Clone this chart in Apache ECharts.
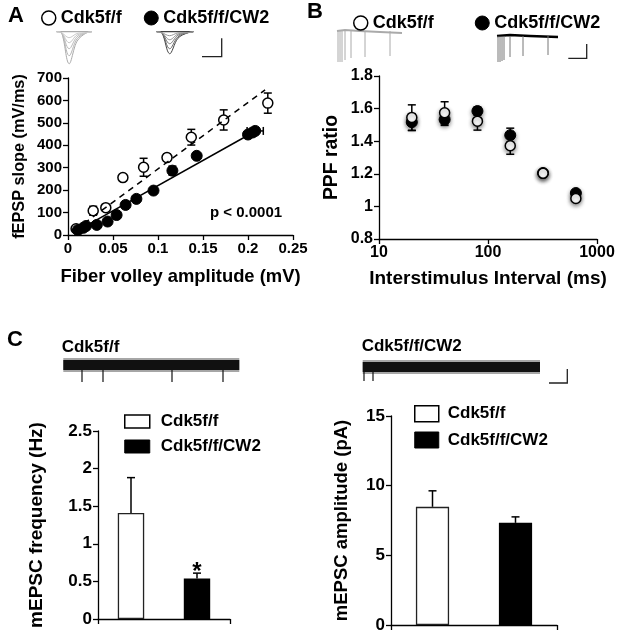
<!DOCTYPE html>
<html>
<head>
<meta charset="utf-8">
<title>Cdk5f/f vs Cdk5f/f/CW2</title>
<script src="https://cdn.jsdelivr.net/npm/echarts@6/dist/echarts.min.js"></script>
<style>
  html, body { margin: 0; padding: 0; background: #fff; }
  #chart { width: 624px; height: 641px; }
</style>
</head>
<body>
<div id="chart"></div>
<script>
/* ===== A: input-output (fEPSP slope vs fiber volley) ===== */
const ioCtrlX = [0.009, 0.028, 0.042, 0.061, 0.084, 0.110, 0.137, 0.173, 0.222];
const ioCtrlY = [28, 108, 122, 256, 302, 345, 436, 513, 588];
const ioCtrlErr = [8, 20, 10, 10, 40, 16, 35, 45, 45];

const ioCkoX = [0.011, 0.017, 0.020, 0.032, 0.044, 0.054, 0.064, 0.076, 0.095, 0.116, 0.143, 0.200, 0.205, 0.208];
const ioCkoY = [22, 32, 40, 45, 60, 89, 134, 161, 198, 287, 353, 448, 457, 464];
const ioCkoErr = [5, 5, 5, 6, 6, 8, 8, 8, 8, 20, 10, 12, 10, 10];
const ioCkoXErr = [0, 0, 0, 0, 0, 0, 0, 0, 0, 0, 0, 0, 0, 0.009];

const fitCtrlX = [0.008, 0.219];
const fitCtrlY = [22, 647];
const fitCkoX = [0.010, 0.205];
const fitCkoY = [18, 456];
const pText = "p < 0.0001";

/* ===== B: paired-pulse facilitation ===== */
const ppfIsi = [20, 40, 80, 160, 320, 640];
const ppfCtrl = [1.545, 1.574, 1.523, 1.372, 1.203, 1.049];
const ppfCtrlErr = [0.078, 0.068, 0.055, 0.052, 0.015, 0.015];
const ppfCko = [1.517, 1.533, 1.585, 1.437, 1.205, 1.082];
const ppfCkoErr = [0.052, 0.036, 0.025, 0.043, 0.015, 0.015];

/* ===== C: mEPSC ===== */
const groups = ["Cdk5f/f", "Cdk5f/f/CW2"];
const freqMean = [1.41, 0.54];
const freqErr = [0.47, 0.07];
const ampMean = [8.48, 7.33];
const ampErr = [1.15, 0.43];
const sigMarks = ["", "*"];

/* ===== 样式 ===== */
const FONT = 'Arial, "Liberation Sans", sans-serif';
const BLACK = "#000";

function axisStyle(fontSize) {
  return {
    axisLine: { show: true, onZero: false, lineStyle: { color: BLACK, width: 1.3 } },
    axisTick: { show: true, inside: false, length: 5, lineStyle: { color: BLACK, width: 1.3 } },
    axisLabel: { color: BLACK, fontWeight: "bold", fontSize: fontSize, fontFamily: FONT, margin: 6 },
    splitLine: { show: false },
    nameTextStyle: { color: BLACK, fontWeight: "bold", fontFamily: FONT },
  };
}

function withName(base, name, size, gap, rotate) {
  const ax = Object.assign({}, base);
  ax.name = name;
  ax.nameLocation = "middle";
  ax.nameGap = gap;
  if (rotate != null) ax.nameRotate = rotate;
  ax.nameTextStyle = Object.assign({}, base.nameTextStyle, { fontSize: size });
  return ax;
}

/* 误差线（竖直 + 可选水平） */
function errRender(oneSided) {
  return function (params, api) {
    const x = api.value(0), y = api.value(1), e = api.value(2);
    const xe = api.value(3) || 0;
    const cap = 4;
    const children = [];
    if (e > 0) {
      const top = api.coord([x, y + e]);
      const bot = api.coord([x, oneSided ? y : y - e]);
      children.push({ type: "line", shape: { x1: top[0], y1: top[1], x2: bot[0], y2: bot[1] } });
      children.push({ type: "line", shape: { x1: top[0] - cap, y1: top[1], x2: top[0] + cap, y2: top[1] } });
      if (!oneSided) {
        children.push({ type: "line", shape: { x1: bot[0] - cap, y1: bot[1], x2: bot[0] + cap, y2: bot[1] } });
      }
    }
    if (xe > 0) {
      const l = api.coord([x - xe, y]);
      const r = api.coord([x + xe, y]);
      children.push({ type: "line", shape: { x1: l[0], y1: l[1], x2: r[0], y2: r[1] } });
      children.push({ type: "line", shape: { x1: l[0], y1: l[1] - cap, x2: l[0], y2: l[1] + cap } });
      children.push({ type: "line", shape: { x1: r[0], y1: r[1] - cap, x2: r[0], y2: r[1] + cap } });
    }
    return {
      type: "group",
      children: children.map((c) => Object.assign(c, { style: { stroke: BLACK, lineWidth: 1.5 } })),
    };
  };
}

/* ===== 示意电流迹线（插图） ===== */
function epspTrace(x0, y0, w, depths, colors) {
  const out = [{
    type: "line", silent: true,
    shape: { x1: x0, y1: y0, x2: x0 + w, y2: y0 },
    style: { stroke: colors[0], lineWidth: 1.2 },
  }];
  depths.forEach((d, i) => {
    out.push({
      type: "polyline", silent: true,
      shape: {
        points: [[x0, y0], [x0 + w * 0.14, y0 + 1], [x0 + w * 0.35, y0 + d], [x0 + w * 0.58, y0 + d * 0.3], [x0 + w * 0.85, y0 + 1], [x0 + w, y0]],
        smooth: 0.35,
      },
      style: { stroke: colors[i], fill: null, lineWidth: 1 },
    });
  });
  return out;
}

function ppfTrace(base, spikesX, spikesY, baseColor, spikeColor, baseWidth) {
  const out = [{
    type: "polyline", silent: true,
    shape: { points: base },
    style: { stroke: baseColor, fill: null, lineWidth: baseWidth },
  }];
  spikesX.forEach((sx, i) => {
    out.push({
      type: "line", silent: true,
      shape: { x1: sx, y1: base[0][1], x2: sx, y2: spikesY[i] },
      style: { stroke: spikeColor, lineWidth: 1 },
    });
  });
  return out;
}

function noiseTrace(x0, x1, yTop, yBot, spikesX, spikeTo) {
  const out = [
    {
      type: "rect", silent: true,
      shape: { x: x0, y: yTop - 2, width: x1 - x0, height: yBot - yTop + 4 },
      style: { fill: "rgba(0,0,0,0.35)" },
    },
    {
      type: "rect", silent: true,
      shape: { x: x0, y: yTop, width: x1 - x0, height: yBot - yTop },
      style: { fill: "#111" },
    },
  ];
  spikesX.forEach((sx) => {
    out.push({
      type: "line", silent: true,
      shape: { x1: sx, y1: yBot, x2: sx, y2: spikeTo },
      style: { stroke: "#111", lineWidth: 1.2 },
    });
  });
  return out;
}

function scaleBar(x0, x1, yBottom, yTop) {
  return {
    type: "polyline", silent: true,
    shape: { points: [[x0, yBottom], [x1, yBottom], [x1, yTop]] },
    style: { stroke: "#222", fill: null, lineWidth: 1.3 },
  };
}

function txt(x, y, text, size, align) {
  return {
    type: "text", silent: true, x: x, y: y,
    style: { text: text, fontSize: size, fontWeight: "bold", fontFamily: FONT, fill: BLACK, align: align || "left", verticalAlign: "middle" },
  };
}

/* ===== 图表 ===== */
const chart = echarts.init(document.getElementById("chart"), null, { renderer: "canvas" });

const openStyle = { color: "#fff", borderColor: BLACK, borderWidth: 1.5, opacity: 1 };
const fillStyle = { color: BLACK, borderColor: BLACK, borderWidth: 1, opacity: 1 };
const ppfShadow = { shadowBlur: 4, shadowColor: "rgba(0,0,0,0.45)", shadowOffsetY: 2 };

const legendText = { fontSize: 18, fontWeight: "bold", fontFamily: FONT, color: BLACK };

const graphics = [].concat(
  [txt(8, 16, "A", 22), txt(307, 12, "B", 22), txt(7, 340, "C", 22)],
  [txt(210, 213, pText, 15)],
  epspTrace(56.7, 31.7, 35, [32, 24, 17, 11, 6], ["#aaa", "#b5b5b5", "#bbb", "#c5c5c5", "#ccc"]),
  epspTrace(156.7, 31.7, 36.6, [22, 17, 12, 8, 4], ["#444", "#666", "#777", "#888", "#999"]),
  [scaleBar(202, 221.7, 56.7, 38.3)],
  ppfTrace([[337, 31], [345, 30], [360, 31], [380, 32], [402, 33]], [338, 340, 342, 345, 351, 365, 390], [62, 62, 62, 60, 58, 57, 56], "#aaa", "#aaa", 2),
  ppfTrace([[497, 36], [510, 35], [530, 36], [558, 37]], [498, 500, 502, 504, 510, 523, 548], [62, 62, 61, 60, 57, 56, 55], BLACK, "#777", 2.5),
  [scaleBar(568.3, 586.7, 58.3, 44)],
  [txt(61.7, 347, groups[0], 17), txt(361.7, 346, groups[1], 17)],
  noiseTrace(63.3, 239.3, 360, 370, [82, 103, 172, 223], 382),
  noiseTrace(362.7, 540, 362, 372, [364, 373], 381),
  [scaleBar(549, 567.3, 383, 369)]
);

const option = {
  animation: false,
  backgroundColor: "#fff",
  textStyle: { fontFamily: FONT },
  grid: [
    { left: 68, top: 78, width: 225, height: 157 },
    { left: 379, top: 76, width: 218, height: 163 },
    { left: 98, top: 431, width: 132, height: 188 },
    { left: 391, top: 416, width: 166, height: 209 },
  ],
  xAxis: [
    withName(Object.assign(axisStyle(15), { type: "value", gridIndex: 0, min: 0, max: 0.25, interval: 0.05 }), "Fiber volley amplitude (mV)", 18.4, 33),
    withName(Object.assign(axisStyle(16), {
      type: "log", logBase: 10, gridIndex: 1, min: 10, max: 1000,
      axisLabel: Object.assign(axisStyle(16).axisLabel, { formatter: (v) => String(Math.round(v)) }),
    }), "Interstimulus Interval (ms)", 19, 30),
    Object.assign(axisStyle(17), { type: "category", gridIndex: 2, data: groups, axisLabel: { show: false } }),
    Object.assign(axisStyle(17), { type: "category", gridIndex: 3, data: groups, axisLabel: { show: false } }),
  ],
  yAxis: [
    withName(Object.assign(axisStyle(15), { type: "value", gridIndex: 0, min: 0, max: 700, interval: 100 }), "fEPSP slope (mV/ms)", 16.3, 40),
    withName(Object.assign(axisStyle(16), { type: "value", gridIndex: 1, min: 0.8, max: 1.8, interval: 0.2 }), "PPF ratio", 19.4, 38),
    withName(Object.assign(axisStyle(17), { type: "value", gridIndex: 2, min: 0, max: 2.5, interval: 0.5 }), "mEPSC frequency (Hz)", 19, 52),
    withName(Object.assign(axisStyle(17), { type: "value", gridIndex: 3, min: 0, max: 15, interval: 5 }), "mEPSC amplitude (pA)", 18.5, 40),
  ],
  legend: [
    {
      left: 41, top: 9, padding: 0, itemWidth: 14, itemHeight: 14, itemGap: 22, textStyle: legendText,
      data: [
        { name: groups[0], icon: "circle", itemStyle: openStyle },
        { name: groups[1], icon: "circle", itemStyle: fillStyle },
      ],
    },
    {
      left: 353, top: 14, padding: 0, itemWidth: 14, itemHeight: 14, itemGap: 41, textStyle: legendText,
      data: [
        { name: groups[0], icon: "circle", itemStyle: openStyle },
        { name: groups[1], icon: "circle", itemStyle: fillStyle },
      ],
    },
    {
      left: 124, top: 413, padding: 0, orient: "vertical", itemWidth: 25, itemHeight: 13, itemGap: 8,
      textStyle: Object.assign({}, legendText, { fontSize: 17, padding: [0, 0, 0, 6] }),
      data: [
        { name: groups[0], icon: "rect", itemStyle: openStyle },
        { name: groups[1], icon: "rect", itemStyle: fillStyle },
      ],
    },
    {
      left: 414, top: 405, padding: 0, orient: "vertical", itemWidth: 24, itemHeight: 16, itemGap: 9,
      textStyle: Object.assign({}, legendText, { fontSize: 17, padding: [0, 0, 0, 4] }),
      data: [
        { name: groups[0], icon: "rect", itemStyle: openStyle },
        { name: groups[1], icon: "rect", itemStyle: fillStyle },
      ],
    },
  ],
  series: [
    /* ---- A ---- */
    {
      name: "fit " + groups[0], type: "line", xAxisIndex: 0, yAxisIndex: 0, symbol: "none",
      lineStyle: { color: BLACK, width: 1.5, type: [6, 5] },
      data: fitCtrlX.map((x, i) => [x, fitCtrlY[i]]),
    },
    {
      name: "fit " + groups[1], type: "line", xAxisIndex: 0, yAxisIndex: 0, symbol: "none",
      lineStyle: { color: BLACK, width: 1.5 },
      data: fitCkoX.map((x, i) => [x, fitCkoY[i]]),
    },
    {
      type: "custom", xAxisIndex: 0, yAxisIndex: 0, renderItem: errRender(false),
      data: ioCtrlX.map((x, i) => [x, ioCtrlY[i], ioCtrlErr[i], 0]),
    },
    {
      type: "custom", xAxisIndex: 0, yAxisIndex: 0, renderItem: errRender(false),
      data: ioCkoX.map((x, i) => [x, ioCkoY[i], ioCkoErr[i], ioCkoXErr[i]]),
    },
    {
      name: groups[0], type: "scatter", xAxisIndex: 0, yAxisIndex: 0, symbolSize: 10,
      itemStyle: openStyle,
      data: ioCtrlX.map((x, i) => [x, ioCtrlY[i]]),
    },
    {
      name: groups[1], type: "scatter", xAxisIndex: 0, yAxisIndex: 0, symbolSize: 11,
      itemStyle: fillStyle,
      data: ioCkoX.map((x, i) => [x, ioCkoY[i]]),
    },
    /* ---- B ---- */
    {
      type: "custom", xAxisIndex: 1, yAxisIndex: 1, renderItem: errRender(false),
      data: ppfIsi.map((x, i) => [x, ppfCko[i], ppfCkoErr[i], 0]),
    },
    {
      type: "custom", xAxisIndex: 1, yAxisIndex: 1, renderItem: errRender(false),
      data: ppfIsi.map((x, i) => [x, ppfCtrl[i], ppfCtrlErr[i], 0]),
    },
    {
      name: groups[1], type: "scatter", xAxisIndex: 1, yAxisIndex: 1, symbolSize: 11,
      itemStyle: Object.assign({}, fillStyle, ppfShadow),
      data: ppfIsi.map((x, i) => [x, ppfCko[i]]),
    },
    {
      name: groups[0], type: "scatter", xAxisIndex: 1, yAxisIndex: 1, symbolSize: 10,
      itemStyle: Object.assign({}, openStyle, ppfShadow),
      data: ppfIsi.map((x, i) => [x, ppfCtrl[i]]),
    },
    /* ---- C 频率 ---- */
    {
      name: groups[0], type: "bar", xAxisIndex: 2, yAxisIndex: 2, stack: "freq", barWidth: "40%",
      itemStyle: { color: "#fff", borderColor: "#222", borderWidth: 1.3 },
      data: [freqMean[0], "-"],
    },
    {
      name: groups[1], type: "bar", xAxisIndex: 2, yAxisIndex: 2, stack: "freq", barWidth: "40%",
      itemStyle: { color: BLACK },
      label: {
        show: true, position: "top", distance: 0, offset: [0, 6],
        formatter: (p) => sigMarks[p.dataIndex],
        fontSize: 24, fontWeight: "bold", fontFamily: FONT, color: BLACK,
      },
      data: ["-", freqMean[1]],
    },
    {
      type: "custom", xAxisIndex: 2, yAxisIndex: 2, renderItem: errRender(true),
      data: groups.map((g, i) => [i, freqMean[i], freqErr[i], 0]),
    },
    /* ---- C 幅度 ---- */
    {
      name: groups[0], type: "bar", xAxisIndex: 3, yAxisIndex: 3, stack: "amp", barWidth: "40%",
      itemStyle: { color: "#fff", borderColor: "#222", borderWidth: 1.3 },
      data: [ampMean[0], "-"],
    },
    {
      name: groups[1], type: "bar", xAxisIndex: 3, yAxisIndex: 3, stack: "amp", barWidth: "40%",
      itemStyle: { color: BLACK },
      data: ["-", ampMean[1]],
    },
    {
      type: "custom", xAxisIndex: 3, yAxisIndex: 3, renderItem: errRender(true),
      data: groups.map((g, i) => [i, ampMean[i], ampErr[i], 0]),
    },
  ],
  graphic: graphics,
};

chart.setOption(option);
window.addEventListener("resize", () => chart.resize());
</script>
</body>
</html>
